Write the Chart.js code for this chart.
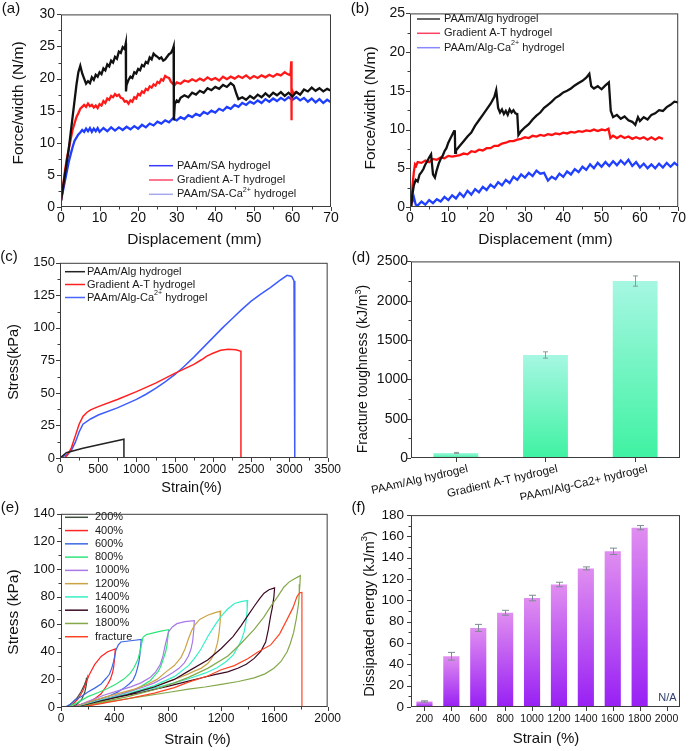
<!DOCTYPE html>
<html><head><meta charset="utf-8">
<script src="https://cdn.jsdelivr.net/npm/chart.js@4.4.0/dist/chart.umd.min.js"></script>
<style>
html,body{margin:0;padding:0;background:#fff;}
body{width:689px;height:751px;position:relative;overflow:hidden;}
canvas{position:absolute;}
</style></head><body>
<canvas id="pa"></canvas><canvas id="pb"></canvas><canvas id="pc"></canvas>
<canvas id="pd"></canvas><canvas id="pe"></canvas><canvas id="pf"></canvas>
<script>
// ---------------- DATA ----------------
// (a) force/width vs displacement
const A_X_TICKS=[0,10,20,30,40,50,60,70], A_X_MINOR=[5,15,25,35,45,55,65];
const A_Y_TICKS=[0,5,10,15,20,25,30], A_Y_MINOR=[2.5,7.5,12.5,17.5,22.5,27.5];
const A_BLACK=[[0,1],[0.5,3],[1,5],[1.5,7],[2,9],[2.5,11.5],[3,14],[3.5,16.5],[4,19],[4.5,21],[5,22],[5.5,20.8],[6,20],[6.5,19.2],[7,19.6],[7.5,19.3],[8,20.2],[8.5,19.8],[9,20.6],[9.5,20.3],[10,21],[10.5,20.7],[11,21.6],[11.5,21.3],[12,22.2],[12.5,21.9],[13,22.8],[13.5,22.5],[14,23.4],[14.5,23.1],[15,24.2],[15.5,24],[16,24.9],[16.5,24.6],[16.8,25.5],[16.85,18],[17,19],[17.5,19.8],[18,20.3],[18.5,20.1],[19,21],[19.5,20.8],[20,21.5],[20.5,21.3],[21,22.1],[21.5,21.9],[22,22.6],[22.5,22.4],[23,23.3],[23.5,23],[24,23.9],[24.5,23.6],[25,23.4],[25.5,23.1],[26,23.3],[26.5,22.8],[27,23],[27.5,23.4],[28,23.8],[28.5,24],[29,24.6],[29.2,25],[29.25,13.5],[29.5,16],[30,16.6],[30.5,16.4],[31,17.0],[32,17.4],[33,17.1],[34,17.8],[35,17.5],[36,18.1],[37,17.8],[38,18.5],[39,18.2],[40,18.7],[41,18.4],[42,19.0],[43,18.7],[44,19.3],[44.8,18.9],[45.5,17.6],[46,16.8],[47,17.1],[48,16.7],[49,17.3],[50,16.9],[51,17.5],[52,17.1],[53,17.7],[54,17.2],[55,17.8],[56,17.4],[57,17.9],[58,17.3],[59,17.8],[60,17.2],[61,17.9],[62,17.5],[63,18.3],[64,18.0],[65,18.6],[66,18.1],[67,18.5],[68,18.0],[69,18.4],[70,18.1]];
const A_RED=[[0,1],[0.5,3],[1,5.5],[1.5,7.5],[2,9],[2.5,10.5],[3,12],[3.5,13],[4,14],[4.5,14.6],[5,15.3],[5.5,15.6],[6,15.9],[6.5,15.6],[7,16.1],[7.5,15.7],[8,15.9],[8.5,15.5],[9,15.8],[9.5,15.4],[10,16],[10.5,15.8],[11,16.5],[11.5,16.2],[12,16.9],[12.5,16.7],[13,17.3],[13.5,17.1],[14,17.6],[14.5,17.3],[15,17.5],[15.5,17.0],[16,16.9],[16.5,16.4],[17,16.5],[17.5,16.1],[18,16.6],[18.5,16.4],[19,17.1],[19.5,16.9],[20,17.6],[20.5,17.4],[21,18],[21.5,17.8],[22,18.4],[22.5,18.2],[23,18.8],[23.5,18.6],[24,19.1],[24.5,18.9],[25,19.5],[25.5,19.3],[26,19.9],[26.5,19.7],[27,20.4],[27.5,20.2],[28,20.1],[28.5,19.5],[29,19.2],[29.5,19.0],[30,19.4],[31,19.2],[32,19.7],[33,19.5],[34,19.9],[35,19.6],[36,20.0],[37,19.7],[38,20.2],[39,19.8],[40,20.1],[41,19.7],[42,20.3],[43,19.9],[44,20.3],[45,20.0],[46,20.4],[47,20.1],[48,20.5],[49,20.0],[50,20.4],[51,20.1],[52,20.5],[53,20.2],[54,20.6],[55,20.3],[56,20.7],[57,20.5],[58,21.0],[58.7,20.7],[59.5,20.5],[59.7,22.7],[59.75,13.5],[59.8,18.5],[60.2,17.7],[61,17.9],[62,17.5]];
const A_BLUE=[[0,1],[0.5,2.5],[1,4],[1.5,5.5],[2,7],[2.5,8.2],[3,9.3],[3.5,10.3],[4,10.8],[4.5,11.3],[5,11.6],[5.5,12],[6,11.7],[6.5,12.2],[7,11.8],[7.5,12.3],[8,11.7],[8.5,12.2],[9,11.8],[9.5,12.3],[10,11.7],[11,12.3],[12,11.8],[13,12.4],[14,11.9],[15,12.4],[16,12.0],[17,12.5],[18,12.1],[19,12.6],[20,12.2],[21,12.8],[22,12.4],[23,13.0],[24,12.7],[25,13.3],[26,13.0],[27,13.5],[28,13.2],[29,13.8],[30,13.5],[31,14.0],[32,13.7],[33,14.3],[34,14.0],[35,14.5],[36,14.2],[37,14.8],[38,14.5],[39,15.0],[40,14.7],[41,15.3],[42,15.0],[43,15.6],[44,15.3],[45,15.9],[46,15.6],[47,16.2],[48,15.9],[49,16.4],[50,16.1],[51,16.6],[52,16.2],[53,16.8],[54,16.4],[55,16.9],[56,16.5],[57,17.0],[58,16.6],[59,17.1],[60,16.7],[61,17.1],[62,16.6],[63,17.0],[64,16.4],[65,16.9],[66,16.3],[67,16.8],[68,16.2],[69,16.7],[70,16.3]];
// (b)
const B_X_TICKS=[0,10,20,30,40,50,60,70], B_X_MINOR=[5,15,25,35,45,55,65];
const B_Y_TICKS=[0,5,10,15,20,25], B_Y_MINOR=[2.5,7.5,12.5,17.5,22.5];
const B_BLACK=[[0.3,0],[0.6,1.5],[1,2.8],[1.5,3.5],[2,3.3],[2.5,4.2],[3,4.5],[3.5,4.9],[4,5.5],[4.5,5.9],[5,6.4],[5.5,6.8],[6,4.2],[6.5,3.8],[7,4.8],[7.5,5.6],[8,6.2],[8.5,6.6],[9,7.2],[9.5,7.6],[10,8.3],[10.5,8.8],[11,9.3],[11.5,9.8],[11.7,9.9],[11.8,7.0],[12,7.3],[13,7.9],[14,8.5],[15,9.1],[16,9.6],[17,10.5],[18,11.2],[19,11.9],[20,12.6],[21,13.3],[22,14.2],[22.5,15.1],[23,12.8],[23.5,12.2],[24,12.6],[24.5,12.0],[25,12.4],[25.5,11.9],[26,12.6],[26.5,12.2],[27,12.5],[27.5,12.1],[28,12.0],[28.3,9.3],[29,9.8],[30,10.3],[31,10.7],[32,11.3],[33,11.8],[34,12.2],[35,12.8],[36,13.2],[37,13.6],[38,14.1],[39,14.4],[40,14.8],[41,15.0],[42,15.3],[43,15.7],[44,16.0],[45,16.3],[46,16.7],[46.8,17.2],[47.3,15.6],[48,15.3],[49,15.6],[50,15.2],[51,15.7],[51.9,16.1],[52.4,12.4],[53,11.6],[54,11.9],[55,11.4],[56,11.7],[57,11.2],[58,11.0],[58.8,10.6],[59.5,11.6],[60,11.1],[61,11.6],[62,11.3],[63,11.9],[64,12.1],[65,12.5],[66,12.4],[67,12.9],[68,13.2],[69,13.6],[70,13.5]];
const B_RED=[[0.3,0],[0.7,3],[1,4.5],[1.3,5.5],[1.6,5.3],[2,5.8],[3,5.7],[4,6.0],[5,5.8],[6,6.2],[7,6.1],[8,6.4],[9,6.3],[10,6.6],[11,6.5],[12,6.6],[13,6.7],[14,6.9],[15,6.8],[16,7.2],[17,7.1],[18,7.4],[19,7.3],[20,7.6],[21,7.6],[22,7.9],[23,7.9],[24,8.2],[25,8.3],[26,8.5],[27,8.5],[28,8.7],[29,8.8],[30,9.0],[31,8.9],[32,9.2],[33,9.1],[34,9.3],[35,9.2],[36,9.4],[37,9.3],[38,9.5],[39,9.4],[40,9.6],[41,9.5],[42,9.7],[43,9.6],[44,9.8],[45,9.7],[46,9.9],[47,9.8],[48,10.0],[49,9.8],[50,10.0],[51,9.9],[51.8,10.1],[52.3,8.9],[53,9.2],[54,8.9],[55,9.2],[56,8.9],[57,9.1],[58,8.8],[59,9.0],[60,8.8],[61,9.0],[62,8.7],[63,9.0],[64,8.7],[65,9.0],[66,8.8]];
const B_BLUE=[[0.5,0.5],[1,1.3],[1.5,0.3],[2,0.2],[3,0.7],[4,0.3],[5,0.9],[6,0.5],[7,1.0],[8,0.7],[9,1.3],[10,0.9],[11,1.5],[12,1.1],[13,1.8],[14,1.3],[15,2.1],[16,1.6],[17,2.3],[18,1.9],[19,2.6],[20,2.2],[21,2.9],[22,2.5],[23,3.2],[24,2.8],[25,3.5],[26,3.1],[27,3.9],[28,3.5],[29,4.2],[30,3.8],[31,4.4],[32,4.0],[33,4.7],[34,4.3],[35,4.4],[36,3.4],[37,3.9],[38,3.6],[39,4.3],[40,3.9],[41,4.6],[42,4.2],[43,4.9],[44,4.5],[45,5.2],[46,4.8],[47,5.5],[48,5.0],[49,5.7],[50,5.2],[51,5.8],[52,5.3],[53,5.9],[54,5.4],[55,6.0],[56,5.5],[57,6.1],[58,5.3],[59,5.8],[60,5.1],[61,5.6],[62,5.0],[63,5.5],[64,5.0],[65,5.6],[66,5.1],[67,5.7],[68,5.2],[69,5.7],[70,5.3]];
// (c) stress-strain
const C_X_TICKS=[0,500,1000,1500,2000,2500,3000,3500], C_X_MINOR=[250,750,1250,1750,2250,2750,3250];
const C_Y_TICKS=[0,25,50,75,100,125,150], C_Y_MINOR=[12.5,37.5,62.5,87.5,112.5,137.5];
const C_BLACK=[[0,0],[83,4],[300,7.5],[550,10.8],[836,14.4],[836,0]];
const C_RED=[[60,0],[100,2.5],[150,8],[200,17],[250,26],[300,32],[350,35],[400,37],[500,39.5],[750,45],[1000,51],[1250,57.5],[1500,65],[1750,72],[1850,75.5],[1920,78.3],[2000,80.5],[2100,82.8],[2200,83.6],[2300,83.2],[2366,82],[2366,0]];
const C_BLUE=[[0,0],[100,3],[150,6],[200,12],[250,20],[300,26],[400,30],[500,33],[750,38.5],[1000,45],[1125,49],[1250,53.5],[1375,58.5],[1500,64],[1625,70.5],[1750,77.5],[1875,85],[2000,92.5],[2125,100],[2250,107],[2375,114],[2500,120.5],[2625,126],[2750,131],[2875,136.5],[2970,140.4],[3030,139.5],[3060,136],[3070,134],[3070,0],[3500,0]];
// (d) fracture toughness bars
const D_LABELS=['PAAm/Alg hydrogel','Gradient A-T hydrogel','PAAm/Alg-Ca2+ hydrogel'];
const D_VALUES=[65,1310,2250], D_ERRORS=[6,40,65];
const D_Y_TICKS=[0,500,1000,1500,2000,2500], D_Y_MINOR=[250,750,1250,1750,2250];
// (e) cyclic loading curves
const E_X_TICKS=[0,400,800,1200,1600,2000], E_X_MINOR=[200,600,1000,1400,1800];
const E_Y_TICKS=[0,20,40,60,80,100,120,140], E_Y_MINOR=[10,30,50,70,90,110,130];
const E_200=[[40,0],[80,2.5],[120,6.5],[150,11],[175,16],[195,21],[190,16],[178,10.5],[155,5.5],[120,2],[80,0]];
const E_400=[[50,0],[90,2],[130,6],[165,12],[190,18],[210,23],[252,30.7],[301,36.6],[350,40.1],[407,42.1],[403,36],[395,29],[387,25],[370,20],[350,16.5],[301,9.6],[260,6.5],[227,4.6],[170,2.5],[128,1.2],[80,0]];
const E_600=[[30,0],[70,2],[104,5],[150,7.5],[202,10.8],[250,13.5],[301,16.7],[340,21],[363,23.7],[380,28],[395,33.1],[412,41.3],[430,45],[449,47.1],[523,48],[602,48.9],[598,44.8],[592,38],[585,33.1],[573,28],[560,23.7],[540,19.5],[511,16.7],[470,13.5],[425,10.8],[360,8],[301,6.1],[240,4.2],[178,2.6],[130,1],[104,0]];
const E_800=[[54,0],[120,3],[202,7.5],[280,10.5],[350,13.4],[420,17],[474,20.4],[520,24.5],[548,28.6],[575,34],[593,40.3],[605,46],[615,50.5],[640,52.5],[671,53.2],[740,54.8],[807,56],[802,51],[795,45],[785,40],[770,35.6],[752,30.5],[733,26.3],[700,22.5],[671,19.2],[610,15.5],[548,12.2],[470,9.8],[400,7.5],[310,5],[227,2.8],[170,1],[128,0]];
const E_1000=[[104,0],[200,4],[326,8.7],[420,11.5],[523,14.6],[600,17.5],[671,21.6],[710,25.5],[745,31],[765,37],[782,45],[795,50],[807,54.5],[835,58],[869,60.4],[930,61.8],[1000,62.5],[996,56],[988,48],[975,42],[956,37],[925,32],[885,28],[840,25],[780,21.5],[700,17.5],[620,14.5],[520,11.5],[420,8.5],[320,5.5],[230,3],[160,1],[130,0]];
const E_1200=[[110,0],[250,5],[400,9],[550,13],[650,16.5],[720,20],[795,26],[850,30],[900,36],[930,42],[956,49.5],[980,55.5],[1000,59],[1040,63.5],[1100,66.5],[1150,68.2],[1198,69.5],[1194,62],[1186,54],[1175,47],[1155,40],[1130,35],[1100,31.5],[1050,28],[1000,26],[956,24],[880,21],[800,18.5],[700,15],[600,12],[500,9.3],[400,6.8],[300,4.3],[210,2],[150,0]];
const E_1400=[[120,0],[300,5],[500,9.5],[700,15.5],[850,22],[956,30],[1000,35],[1050,42],[1105,51.8],[1160,60],[1202,65.9],[1250,71],[1301,75],[1350,76.3],[1400,77.2],[1396,70],[1388,62],[1375,55],[1357,49.5],[1330,44],[1292,37.8],[1240,33],[1170,28.4],[1080,24.5],[956,20.5],[850,17.5],[750,15],[600,11.5],[450,8],[300,4.5],[200,2],[150,0]];
const E_1600=[[130,0],[300,4.5],[500,9],[700,14.5],[850,20],[956,26],[1100,34],[1202,42.4],[1290,51],[1350,58.8],[1400,66],[1449,73],[1490,78.5],[1523,82.5],[1560,85],[1602,86.3],[1597,80],[1585,72],[1572,65.9],[1555,56],[1535,47],[1500,40.5],[1449,35.2],[1390,31],[1326,28.1],[1250,25.5],[1153,23.4],[1050,21],[956,18.8],[800,15],[600,10.5],[400,6.5],[250,3],[160,0]];
const E_1800=[[140,0],[300,3.5],[500,7.5],[700,12.5],[850,17.5],[956,21.5],[1100,28],[1252,37],[1350,46],[1449,56.3],[1520,65],[1572,72.7],[1625,80],[1671,86.8],[1710,90.5],[1745,92.6],[1795,95.2],[1792,89],[1787,82],[1782,75],[1765,64],[1745,54],[1720,46],[1696,40],[1650,33],[1597,28.1],[1530,24],[1449,21.1],[1330,18.5],[1202,16.4],[1080,14.5],[956,12.9],[800,10.5],[600,7.5],[400,4.5],[250,2],[180,0]];
const E_FRACT=[[0,0],[100,0],[180,0.5],[300,2.5],[500,6],[700,10],[850,14],[956,18],[1100,22.5],[1202,27],[1300,30],[1400,35],[1480,40],[1573,45],[1640,53],[1696,63.5],[1740,72],[1770,80],[1790,82.8],[1807,83],[1807,0],[2000,0]];
const E_NAMES=['200%','400%','600%','800%','1000%','1200%','1400%','1600%','1800%','fracture'];
// (f) dissipated energy bars
const F_LABELS=['200','400','600','800','1000','1200','1400','1600','1800','2000'];
const F_VALUES=[5.2,47.6,74.2,88.4,102.2,114.9,130,146,168.2,null];
const F_ERRORS=[0.6,3.6,3.3,2.3,2.6,2.1,1.4,3,2,null];
const F_Y_TICKS=[0,20,40,60,80,100,120,140,160,180], F_Y_MINOR=[10,30,50,70,90,110,130,150,170];

// ---------------- RENDERING ----------------
const FAM="'Liberation Sans', Arial, Helvetica, sans-serif";
Chart.defaults.font.family=FAM;
Chart.defaults.color='#111';
Chart.defaults.animation=false;
const specs={};

function richWidth(ctx,parts,size){let w=0;for(const p of parts){ctx.font=(p[1]?size*0.65:size)+'px '+FAM;w+=ctx.measureText(p[0]).width;}return w;}
function drawRich(ctx,parts,x,y,size,align){
  let w=richWidth(ctx,parts,size);
  let cx=align==='center'?x-w/2:x;
  ctx.textBaseline='middle';ctx.textAlign='left';
  for(const p of parts){
    const s=p[1]?size*0.65:size;ctx.font=s+'px '+FAM;
    ctx.fillText(p[0],cx,p[1]?y-size*0.38:y);
    cx+=ctx.measureText(p[0]).width;
  }
}
const deco={
  id:'deco',
  afterDatasetsDraw(chart){
    const s=specs[chart.canvas.id]; if(!s||!s.errors) return;
    const ctx=chart.ctx, meta=chart.getDatasetMeta(0), ys=chart.scales.y;
    ctx.save();ctx.strokeStyle=s.errors.color;ctx.lineWidth=1;
    s.errors.vals.forEach((v,i)=>{
      const e=s.errors.errs[i]; if(v==null||e==null) return;
      const el=meta.data[i]; const x=Math.round(el.x)+0.5;
      const y1=ys.getPixelForValue(v+e), y2=ys.getPixelForValue(v-e), c=s.errors.cap;
      ctx.beginPath();ctx.moveTo(x,y1);ctx.lineTo(x,y2);
      ctx.moveTo(x-c,y1);ctx.lineTo(x+c,y1);ctx.moveTo(x-c,y2);ctx.lineTo(x+c,y2);ctx.stroke();
    });
    ctx.restore();
  },
  afterDraw(chart){
    const s=specs[chart.canvas.id]; if(!s) return;
    const ctx=chart.ctx, a=chart.chartArea, xs=chart.scales.x, ys=chart.scales.y;
    const ox=s.box.x, oy=s.box.y;
    ctx.save();
    ctx.strokeStyle='#3c3c3c';ctx.lineWidth=1;
    ctx.strokeRect(a.left+0.5,a.top+0.5,a.right-a.left-1,a.bottom-a.top-1);
    ctx.beginPath();
    const tx=(vals,len)=>vals.forEach(v=>{const p=Math.round(xs.getPixelForValue(v))+0.5;ctx.moveTo(p,a.bottom);ctx.lineTo(p,a.bottom+len);});
    const ty=(vals,len)=>vals.forEach(v=>{const p=Math.round(ys.getPixelForValue(v))+0.5;ctx.moveTo(a.left,p);ctx.lineTo(a.left-len,p);});
    tx(s.xMajor,4);tx(s.xMinor||[],2.5);ty(s.yMajor,4);ty(s.yMinor||[],2.5);
    ctx.stroke();
    ctx.fillStyle='#111';
    for(const t of s.texts){
      ctx.save();ctx.translate(t.x-ox,t.y-oy);if(t.rot)ctx.rotate(-Math.PI/2);
      ctx.fillStyle=t.color||'#111';
      drawRich(ctx,t.parts,0,0,t.size,t.align||'center');
      ctx.restore();
    }
    if(s.legend){
      const L=s.legend;
      L.items.forEach((it,i)=>{
        const y=L.ys[i]-oy;
        ctx.strokeStyle=it.color;ctx.lineWidth=1.5;
        ctx.beginPath();ctx.moveTo(L.x1-ox,y);ctx.lineTo(L.x2-ox,y);ctx.stroke();
        ctx.fillStyle='#1a1a1a';
        drawRich(ctx,it.parts,L.tx-ox,y,L.size,'left');
      });
    }
    ctx.restore();
  }
};
Chart.register(deco);

function setupCanvas(id,box){
  const c=document.getElementById(id);
  c.width=box.w;c.height=box.h;
  c.style.left=box.x+'px';c.style.top=box.y+'px';c.style.width=box.w+'px';c.style.height=box.h+'px';
  return c;
}
function linAxis(min,max,ticks,font,pad,size,isX){
  return {type:'linear',min,max,
    afterBuildTicks:s=>{s.ticks=ticks.map(v=>({value:v}));},
    ticks:{font:{size:font},padding:pad,color:'#111',autoSkip:false,maxRotation:0,minRotation:0,callback:v=>String(v)},
    grid:{display:false,drawTicks:false},border:{display:false},
    afterFit:s=>{if(isX)s.height=size;else s.width=size;}};
}
function layoutFor(box,plot){
  return {autoPadding:false,padding:{top:plot.t-box.y,right:box.x+box.w-plot.r,left:0,bottom:0}};
}
function lineChart(id,box,plot,xr,yr,series,spec){
  const c=setupCanvas(id,box);
  spec.box=box;specs[id]=spec;
  return new Chart(c,{type:'line',
    data:{datasets:series.map(s=>({data:s.pts.map(p=>({x:p[0],y:p[1]})),borderColor:s.color,borderWidth:s.w,pointRadius:0,tension:0,fill:false}))},
    options:{responsive:false,animation:false,events:[],layout:layoutFor(box,plot),
      plugins:{legend:{display:false},tooltip:{enabled:false}},
      scales:{x:linAxis(xr[0],xr[1],xr[2],xr[3],xr[4],box.y+box.h-plot.b,true),
              y:linAxis(yr[0],yr[1],yr[2],yr[3],yr[4],plot.l-box.x,false)}}});
}
function barGrad(top,bot){
  return ctx=>{
    const ch=ctx.chart; if(!ch.chartArea||ctx.parsed==null||ctx.parsed.y==null) return bot;
    const ys=ch.scales.y; const yt=ys.getPixelForValue(ctx.parsed.y), yb=ys.getPixelForValue(0);
    if(!isFinite(yt)||yt===yb) return bot;
    const g=ch.ctx.createLinearGradient(0,yt,0,yb);g.addColorStop(0,top);g.addColorStop(1,bot);return g;
  };
}
function barChart(id,box,plot,labels,values,xtick,yr,color,barPct,spec){
  const c=setupCanvas(id,box);
  spec.box=box;specs[id]=spec;
  return new Chart(c,{type:'bar',
    data:{labels,datasets:[{data:values,backgroundColor:color,borderWidth:0,barPercentage:barPct,categoryPercentage:1}]},
    options:{responsive:false,animation:false,events:[],layout:layoutFor(box,plot),
      plugins:{legend:{display:false},tooltip:{enabled:false}},
      scales:{x:{type:'category',offset:true,
          ticks:{font:{size:xtick.size},padding:xtick.pad,color:'#111',autoSkip:false,maxRotation:xtick.rot,minRotation:xtick.rot,labelOffset:xtick.off||0},
          grid:{display:false,drawTicks:false},border:{display:false},
          afterFit:s=>{s.height=box.y+box.h-plot.b;}},
        y:linAxis(yr[0],yr[1],yr[2],yr[3],yr[4],plot.l-box.x,false)}}});
}
const T=(s)=>[[s,false]];

// ----- panel (a)
lineChart('pa',{x:0,y:0,w:345,h:250},{l:61,t:9,r:331,b:207},
  [0,70,A_X_TICKS,14,3],[0,30,A_Y_TICKS,14,6],
  [{pts:A_BLACK,color:'#111111',w:2.3},{pts:A_RED,color:'#ff1a1a',w:2.3},{pts:A_BLUE,color:'#1f3dff',w:2.3}],
  {xMajor:A_X_TICKS,xMinor:A_X_MINOR,yMajor:A_Y_TICKS,yMinor:A_Y_MINOR,
   texts:[{parts:T('(a)'),x:11,y:9,size:15},
          {parts:T('Displacement (mm)'),x:194.5,y:240,size:15.5},
          {parts:T('Force/width (N/m)'),x:19,y:103,size:15.5,rot:true}],
   legend:{x1:149,x2:173,tx:177,ys:[165.7,180,194.3],size:11,items:[
     {color:'#3a3aff',parts:T('PAAm/SA hydrogel')},
     {color:'#ff4868',parts:T('Gradient A-T hydrogel')},
     {color:'#a8a8f0',parts:[['PAAm/SA-Ca',false],['2+',true],[' hydrogel',false]]}]}});
// ----- panel (b)
lineChart('pb',{x:345,y:0,w:344,h:250},{l:410,t:9,r:680,b:207},
  [0,70,B_X_TICKS,14,3],[0,25,B_Y_TICKS,14,5],
  [{pts:B_BLACK,color:'#111111',w:2.3},{pts:B_RED,color:'#ff1010',w:2.3},{pts:B_BLUE,color:'#2040ff',w:2.3}],
  {xMajor:B_X_TICKS,xMinor:B_X_MINOR,yMajor:B_Y_TICKS,yMinor:B_Y_MINOR,
   texts:[{parts:T('(b)'),x:360,y:9,size:15},
          {parts:T('Displacement (mm)'),x:545.5,y:240,size:15.5},
          {parts:T('Force/width (N/m)'),x:371,y:108,size:15.5,rot:true}],
   legend:{x1:417,x2:440,tx:444,ys:[19,33.3,47.7],size:11,items:[
     {color:'#333333',parts:T('PAAm/Alg hydrogel')},
     {color:'#ff4060',parts:T('Gradient A-T hydrogel')},
     {color:'#8888ff',parts:[['PAAm/Alg-Ca',false],['2+',true],[' hydrogel',false]]}]}});
// ----- panel (c)
lineChart('pc',{x:0,y:250,w:345,h:250},{l:60,t:260,r:331,b:458},
  [0,3500,C_X_TICKS,12,4],[0,150,C_Y_TICKS,13,5],
  [{pts:C_BLACK,color:'#222222',w:1.5},{pts:C_RED,color:'#ff2020',w:1.5},{pts:C_BLUE,color:'#3d5cff',w:1.5}],
  {xMajor:C_X_TICKS,xMinor:C_X_MINOR,yMajor:C_Y_TICKS,yMinor:C_Y_MINOR,
   texts:[{parts:T('(c)'),x:9,y:257,size:15},
          {parts:T('Strain(%)'),x:191.5,y:488,size:14.5},
          {parts:T('Stress(kPa)'),x:14,y:362,size:14.5,rot:true}],
   legend:{x1:65,x2:85,tx:87,ys:[271.7,284.5,297.5],size:11,items:[
     {color:'#222222',parts:T('PAAm/Alg hydrogel')},
     {color:'#ff2020',parts:T('Gradient A-T hydrogel')},
     {color:'#4a66ff',parts:[['PAAm/Alg-Ca',false],['2+',true],[' hydrogel',false]]}]}});
// ----- panel (d)
barChart('pd',{x:345,y:250,w:344,h:250},{l:408,t:260,r:680,b:458},
  D_LABELS,D_VALUES,{size:11.5,pad:4,rot:13,off:12},[0,2500,D_Y_TICKS,14,3],
  barGrad('#a6f7e2','#3ff2a2'),0.5,
  {xMajor:[0,1,2],yMajor:D_Y_TICKS,yMinor:D_Y_MINOR,
   errors:{vals:D_VALUES,errs:D_ERRORS,color:'#8a9a9a',cap:2.5},
   texts:[{parts:T('(d)'),x:361,y:258,size:15},
          {parts:[['Fracture toughness (kJ/m',false],['3',true],[')',false]],x:363.5,y:369,size:14,rot:true}]});
// ----- panel (e)
const E_COLORS=['#3e4f3e','#ff2424','#3c68e6','#2fe57a','#a878e8','#cca344','#36f0c8','#3a0a24','#84a84a','#ff4422'];
const E_SETS=[E_200,E_400,E_600,E_800,E_1000,E_1200,E_1400,E_1600,E_1800,E_FRACT];
lineChart('pe',{x:0,y:500,w:345,h:251},{l:61,t:508,r:331,b:707},
  [0,2000,E_X_TICKS,12,4],[0,140,E_Y_TICKS,13,6],
  E_SETS.map((d,i)=>({pts:d,color:E_COLORS[i],w:1.2})).reverse(),
  {xMajor:E_X_TICKS,xMinor:E_X_MINOR,yMajor:E_Y_TICKS,yMinor:E_Y_MINOR,
   texts:[{parts:T('(e)'),x:10,y:508,size:15},
          {parts:T('Strain (%)'),x:197.5,y:740,size:15},
          {parts:T('Stress (kPa)'),x:14,y:612,size:15.5,rot:true}],
   legend:{x1:65,x2:88,tx:95,ys:E_NAMES.map((n,i)=>517.3+i*13.27),size:11,
     items:E_NAMES.map((n,i)=>({color:E_COLORS[i],parts:T(n)}))}});
// ----- panel (f)
barChart('pf',{x:345,y:500,w:344,h:251},{l:411,t:508,r:680,b:707},
  F_LABELS,F_VALUES,{size:10.5,pad:6,rot:0},[0,180,F_Y_TICKS,13.5,7],
  barGrad('#e08ef0','#9820f4'),0.6,
  {xMajor:[0,1,2,3,4,5,6,7,8,9],yMajor:F_Y_TICKS,yMinor:F_Y_MINOR,
   errors:{vals:F_VALUES,errs:F_ERRORS,color:'#7d8c92',cap:3.5},
   texts:[{parts:T('(f)'),x:358.5,y:508,size:15},
          {parts:T('N/A'),x:667.5,y:698,size:11,color:'#2f3f6f'},
          {parts:T('Strain (%)'),x:546,y:739,size:15},
          {parts:[['Dissipated energy (kJ/m',false],['3',true],[')',false]],x:370,y:614,size:14.5,rot:true}]});
</script>
</body></html>
